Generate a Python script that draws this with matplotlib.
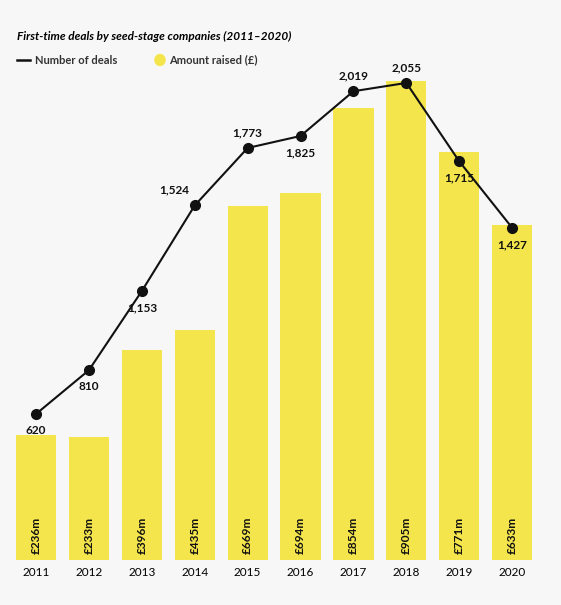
import matplotlib.pyplot as plt
import numpy as np

plt.rcParams['font.family'] = ['Lato', 'DejaVu Sans']

years = ["2011", "2012", "2013", "2014", "2015", "2016", "2017", "2018", "2019", "2020"]
amount = [236, 233, 396, 435, 669, 694, 854, 905, 771, 633]
deals = [620, 810, 1153, 1524, 1773, 1825, 2019, 2055, 1715, 1427]
above = [False, False, False, True, True, False, True, True, False, False]

bg = "#f7f7f7"
yellow = "#f4e54c"

fig = plt.figure(figsize=(5.61, 6.05), dpi=100, facecolor=bg)
ax = fig.add_axes([9.6/561, 45/605, 529/561, 490/605])
ax.set_facecolor(bg)
x = np.arange(len(years))
ax.bar(x, amount, width=0.76, color=yellow, zorder=1)
for xi, a in zip(x, amount):
    ax.text(xi, 12, f"£{a}m", rotation=90, ha="center", va="bottom",
            fontsize=8.5, fontweight="bold", color="#111")
ax.set_xlim(-0.5, len(years) - 0.5)
ax.set_ylim(0, 926)
ax.set_xticks(x, years, fontsize=8.5)
ax.set_yticks([])
ax.tick_params(axis="x", length=0, pad=5)
for s in ax.spines.values():
    s.set_visible(False)

ax2 = ax.twinx()
ax2.plot(x, deals, color="#111", lw=1.5, marker="o", markersize=7, zorder=3)
ax2.set_ylim(-13, 2111)
ax2.set_yticks([])
for s in ax2.spines.values():
    s.set_visible(False)
for xi, d, up in zip(x, deals, above):
    dx = -15 if xi == 3 else 0
    ax2.annotate(f"{d:,}", (xi, d), xytext=(dx, 7 if up else -8),
                 textcoords="offset points", ha="center",
                 va="bottom" if up else "top", fontsize=8.5,
                 fontweight="bold", color="#111")

fig.text(17/561, 1 - 36/605, "First-time deals by seed-stage companies (2011–2020)",
         fontsize=8.5, fontweight="bold", fontstyle="italic", va="center")
fig.lines.append(plt.Line2D([17/561, 30/561], [1 - 60/605] * 2, color="#111", lw=1.8,
                            transform=fig.transFigure))
fig.text(35/561, 1 - 60/605, "Number of deals", fontsize=8, fontweight="bold",
         color="#333", va="center")
fig.patches.append(plt.Circle((160/561, 1 - 60/605), 0.009, color=yellow,
                              transform=fig.transFigure))
fig.text(169/561, 1 - 60/605, "Amount raised (£)", fontsize=8, fontweight="bold",
         color="#333", va="center")

fig.savefig("out.png", dpi=100, facecolor=bg)
